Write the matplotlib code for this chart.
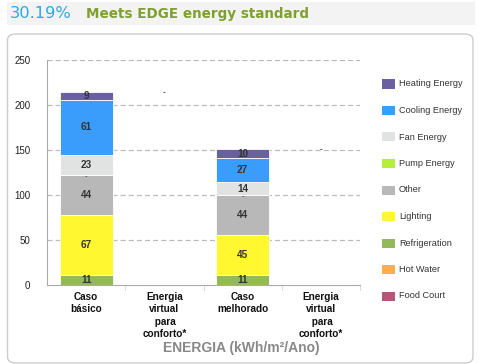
import matplotlib
matplotlib.use("Agg")
import matplotlib.pyplot as plt
from matplotlib.patches import FancyBboxPatch, Rectangle
import numpy as np

plt.rcParams['font.family'] = ['Liberation Sans', 'DejaVu Sans']

categories = ["Caso\nbásico", "Energia\nvirtual\n para\nconforto*", "Caso\nmelhorado", "Energia\nvirtual\n para\nconforto*"]
series_names = ["Heating Energy", "Cooling Energy", "Fan Energy", "Pump Energy", "Other",
                "Lighting", "Refrigeration", "Hot Water", "Food Court"]
colors = ["#6b5f9f", "#3a9cfb", "#e1e3e3", "#b4f03a", "#b8b8b8", "#fff72f", "#94b95a", "#ffae4f", "#b0587a"]
# stacking order bottom->top
stack_order = ["Refrigeration", "Lighting", "Other", "Pump Energy", "Fan Energy", "Cooling Energy", "Heating Energy"]
caso_basico = {"Refrigeration": 11, "Lighting": 67, "Other": 44, "Pump Energy": 0,
               "Fan Energy": 23, "Cooling Energy": 61, "Heating Energy": 9}
caso_melhorado = {"Refrigeration": 11, "Lighting": 45, "Other": 44, "Pump Energy": 0,
                  "Fan Energy": 14, "Cooling Energy": 27, "Heating Energy": 10}
bar_data = {0: caso_basico, 2: caso_melhorado}
virtual_totals = {1: 214, 3: 150}
yticks = [0, 50, 100, 150, 200, 250]

W, H = 481, 364
fig = plt.figure(figsize=(W/100, H/100), dpi=100)

# header band
fig.patches.append(Rectangle((7/W, 1 - 25/H), 468/W, 23/H, transform=fig.transFigure,
                             facecolor="#f3f3f3", edgecolor="none", zorder=-2))
fig.text(10/W, 1 - 14/H, "30.19%", color="#2ba8e8", fontsize=11.7, va="center", ha="left",
         family=["DejaVu Sans"])
fig.text(86/W, 1 - 14/H, "Meets EDGE energy standard", color="#7f9f2f", fontsize=9.75,
         fontweight="bold", va="center", ha="left", family=["DejaVu Sans"])

# panel
fig.patches.append(FancyBboxPatch((7.5/W, 1 - 363/H), 465.5/W, 329/H,
                                  boxstyle="round,pad=0,rounding_size=0.017",
                                  transform=fig.transFigure, facecolor="white",
                                  edgecolor="#cccccc", linewidth=1.0, zorder=-2))

ax = fig.add_axes([47/W, (H - 285)/H, 313/W, 225/H])
ax.set_zorder(2)
ax.set_xlim(-0.5, 3.5)
ax.set_ylim(0, 250)
ax.patch.set_alpha(0)

color_map = dict(zip(series_names, colors))
bw = 0.68
for idx, d in bar_data.items():
    bottom = 0
    for name in stack_order:
        v = d[name]
        if v > 0:
            ax.bar(idx, v, bottom=bottom, width=bw, color=color_map[name],
                   edgecolor="white", linewidth=0.6, zorder=3)
            ax.text(idx, bottom + v/2, str(v), ha="center", va="center",
                    fontsize=7.2, fontweight="bold", color="#333333", zorder=4)
        else:
            ax.text(idx, bottom - 2, "-", ha="center", va="center",
                    fontsize=5.5, color="#333333", zorder=4)
        bottom += v
for idx, t in virtual_totals.items():
    ax.text(idx, t, "-", ha="center", va="center", fontsize=6, fontweight="bold",
            color="#333333", zorder=4)

for y in yticks[1:]:
    ax.axhline(y, color="#bbbbbb", linestyle=(0, (4, 2.5)), linewidth=0.9, zorder=1)

ax.set_yticks(yticks)
ax.set_yticklabels([str(t) for t in yticks], fontsize=7, color="#222222")
ax.tick_params(axis="y", length=0, pad=12)

ax.set_xticks(range(len(categories)))
ax.set_xticklabels(categories, fontsize=7.2, fontweight="bold", color="#111111", linespacing=1.3)
ax.tick_params(axis="x", length=0, pad=5)
for b in [0.5, 1.5, 2.5, 3.5]:
    ax.plot([b, b], [0, -5], color="#dddddd", linewidth=0.8, clip_on=False, zorder=2)

for s in ["top", "right"]:
    ax.spines[s].set_visible(False)
ax.spines["left"].set_color("#aaaaaa")
ax.spines["bottom"].set_color("#aaaaaa")
ax.spines["left"].set_linewidth(0.8)
ax.spines["bottom"].set_linewidth(0.8)

fig.text(241/W, 1 - 348/H, "ENERGIA (kWh/m²/Ano)", color="#888888", fontsize=10,
         fontweight="bold", ha="center", va="center")

# legend
y0 = 84
for i, (name, c) in enumerate(zip(series_names, colors)):
    y = y0 + i * 26.5
    fig.patches.append(Rectangle((382/W, 1 - (y + 4.5)/H), 13/W, 9/H, transform=fig.transFigure,
                                 facecolor=c, edgecolor="none"))
    fig.text(399/W, 1 - y/H, name, fontsize=6.6, color="#333333", va="center", ha="left")

fig.savefig("out.png", dpi=100)
